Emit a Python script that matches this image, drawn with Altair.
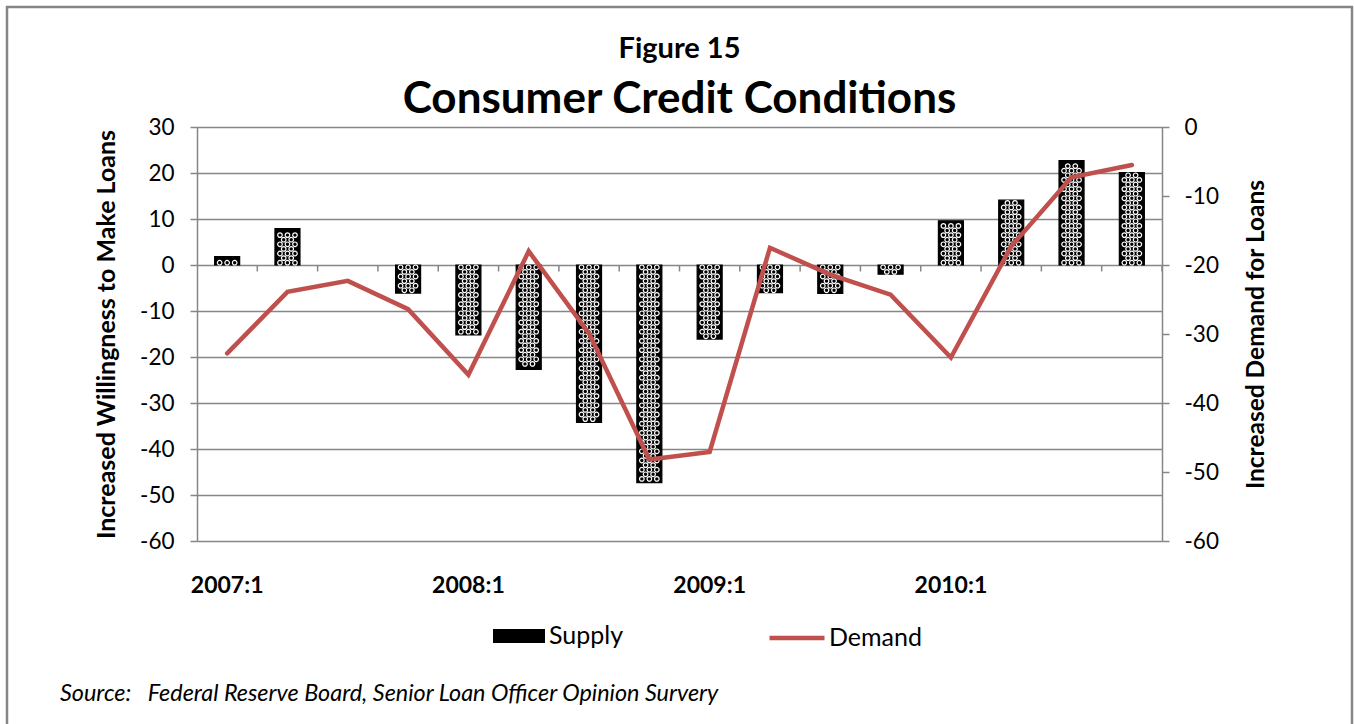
import altair as alt
import pandas as pd

quarters = ["2007:1", "2007:2", "2007:3", "2007:4",
            "2008:1", "2008:2", "2008:3", "2008:4",
            "2009:1", "2009:2", "2009:3", "2009:4",
            "2010:1", "2010:2", "2010:3", "2010:4"]
supply = [1.8, 7.9, 0.0, -6.1, -15.2, -22.7, -34.2, -47.3,
          -16.1, -6.0, -6.2, -2.0, 9.6, 14.1, 22.7, 20.1]
demand = [-32.8, -23.9, -22.3, -26.4, -35.9, -18.0, -29.9, -48.2,
          -47.1, -17.5, -21.4, -24.3, -33.4, -17.3, -7.3, -5.5]
left_ticks = [30, 20, 10, 0, -10, -20, -30, -40, -50, -60]
right_ticks = [0, -10, -20, -30, -40, -50, -60]
figure_label = "Figure 15"
chart_title = "Consumer Credit Conditions"
source_text = "Source:\u00a0\u00a0\u00a0Federal Reserve Board, Senior Loan Officer Opinion Survery"

df = pd.DataFrame({"quarter": quarters, "supply": supply, "demand": demand})

FONT = "Lato"
GRAY = "#868686"
RED = "#c0504d"
W, H = 965, 414
PL, PT = 197, 127
HYPHEN = "datum.value < 0 ? '-' + abs(datum.value) : '' + datum.value"

x_axis = alt.Axis(orient="bottom", domain=False, ticks=False, grid=False,
                  labelAngle=0, labelPadding=33, labelFontSize=23,
                  labelFontWeight="bold", labelFont=FONT, labelColor="black",
                  labelExpr="indexof(datum.value, ':1') > 0 ? datum.value : ''",
                  title=None)
xenc = alt.X("quarter:N", sort=quarters,
             scale=alt.Scale(paddingInner=0, paddingOuter=0), axis=x_axis)
yscale = alt.Scale(domain=[-60, 30], nice=False, zero=False)
y_axis = alt.Axis(values=left_ticks, grid=True, gridColor=GRAY, gridWidth=1.5,
                  domainColor=GRAY, domainWidth=1.5, tickColor=GRAY, tickWidth=1.5,
                  tickSize=7, labelFontSize=22.5, labelFont=FONT, labelColor="black",
                  labelPadding=16, labelExpr=HYPHEN,
                  title="Increased Willingness to Make Loans",
                  titleFontSize=25, titleFont=FONT, titleFontWeight="bold",
                  titleColor="black", titlePadding=20)

base = alt.Chart(df)

bars = base.transform_filter("datum.supply != 0").transform_calculate(
    series="'Supply'"
).mark_bar(size=25, stroke="black", strokeWidth=1.2).encode(
    x=xenc,
    y=alt.Y("supply:Q", scale=yscale, axis=y_axis),
    y2=alt.datum(0),
    fill=alt.Fill("series:N", scale=alt.Scale(domain=["Supply"], range=["black"]),
                  legend=alt.Legend(orient="none", legendX=296, legendY=483, title=None,
                                    symbolType="M-1,-0.27L1,-0.27L1,0.27L-1,0.27Z",
                                    symbolSize=2704, symbolStrokeWidth=0,
                                    labelFontSize=25, labelFont=FONT, labelColor="black",
                                    labelOffset=4)),
)

STEP = 1.0
tex_base = base.transform_filter("datum.supply != 0").transform_calculate(
    rows="sequence(0, floor(abs(datum.supply) / %s))" % STEP
).transform_flatten(["rows"]).transform_calculate(
    ty="(datum.supply > 0 ? 1 : -1) * (datum.rows + 0.5) * %s" % STEP,
    parity="datum.rows % 2"
).transform_filter("abs(datum.ty) + 0.3 <= abs(datum.supply)")

tex_layers = []
for par, offs in [(0, [-7.5, 0, 7.5]), (1, [-3.75, 3.75])]:
    for o in offs:
        tex_layers.append(
            tex_base.transform_filter("datum.parity == %d" % par).mark_point(
                shape="circle", filled=False, stroke="white", strokeWidth=1.2,
                size=21, opacity=1, xOffset=o
            ).encode(x=xenc, y=alt.Y("ty:Q", scale=yscale, axis=y_axis))
        )

ticks = base.mark_rule(color=GRAY, strokeWidth=1.5, xOffset=W / 32).encode(
    x=xenc,
    y=alt.Y("zero:Q", scale=yscale, axis=y_axis),
    y2=alt.Y2("tk:Q"),
).transform_calculate(zero="0", tk="-1.4")

frame = alt.Chart(pd.DataFrame({"f": [1]})).mark_rect(
    fill="transparent", stroke=GRAY, strokeWidth=2.5
).encode(x=alt.value(7 - PL), x2=alt.value(1352 - PL),
         y=alt.value(7 - PT), y2=alt.value(760 - PT))

fig_txt = alt.Chart(pd.DataFrame({"t": [figure_label]})).mark_text(
    align="center", baseline="alphabetic", fontSize=29, fontWeight="bold",
    font=FONT, color="black"
).encode(x=alt.value(W / 2), y=alt.value(58 - PT), text="t:N")

title_txt = alt.Chart(pd.DataFrame({"t": [chart_title]})).mark_text(
    align="center", baseline="alphabetic", fontSize=44, fontWeight="bold",
    font=FONT, color="black"
).encode(x=alt.value(W / 2), y=alt.value(113 - PT), text="t:N")

source = alt.Chart(pd.DataFrame({"t": [source_text]})).mark_text(
    align="left", baseline="middle", fontSize=23.4, fontStyle="italic", font=FONT,
    color="black"
).encode(x=alt.value(60 - PL), y=alt.value(694 - PT), text="t:N")

left = alt.layer(bars, *tex_layers, ticks)

line = base.transform_calculate(series2="'Demand'").mark_line(
    strokeWidth=4.5, strokeCap="round"
).encode(
    x=xenc,
    y=alt.Y("demand:Q", scale=alt.Scale(domain=[-60, 0], nice=False, zero=False),
            axis=alt.Axis(orient="right", values=right_ticks, grid=False,
                          domainColor=GRAY, domainWidth=1.5, tickColor=GRAY, tickWidth=1.5,
                          tickSize=7, labelFontSize=22.5, labelFont=FONT, labelColor="black",
                          labelPadding=15, labelExpr=HYPHEN,
                          title="Increased Demand for Loans",
                          titleFontSize=24.5, titleFont=FONT, titleFontWeight="bold",
                          titleColor="black", titleAngle=270, titlePadding=50)),
    stroke=alt.Stroke("series2:N", scale=alt.Scale(domain=["Demand"], range=[RED]),
                      legend=alt.Legend(orient="none", legendX=570, legendY=481, title=None,
                                        symbolType="stroke", symbolSize=3025,
                                        symbolStrokeWidth=4.5,
                                        labelFontSize=25, labelFont=FONT, labelColor="black",
                                        labelOffset=2)),
)

chart = alt.layer(left, line, frame, fig_txt, title_txt, source).resolve_scale(
    y="independent", fill="independent", stroke="independent"
).properties(
    width=W, height=H,
    padding={"left": PL, "top": PT, "right": 1354 - PL - W, "bottom": 724 - PT - H},
    autosize=alt.AutoSizeParams(type="none"),
).configure_view(stroke=None).configure(background="white")

chart.save("out.html", embed_options={"renderer": "svg", "actions": False})
